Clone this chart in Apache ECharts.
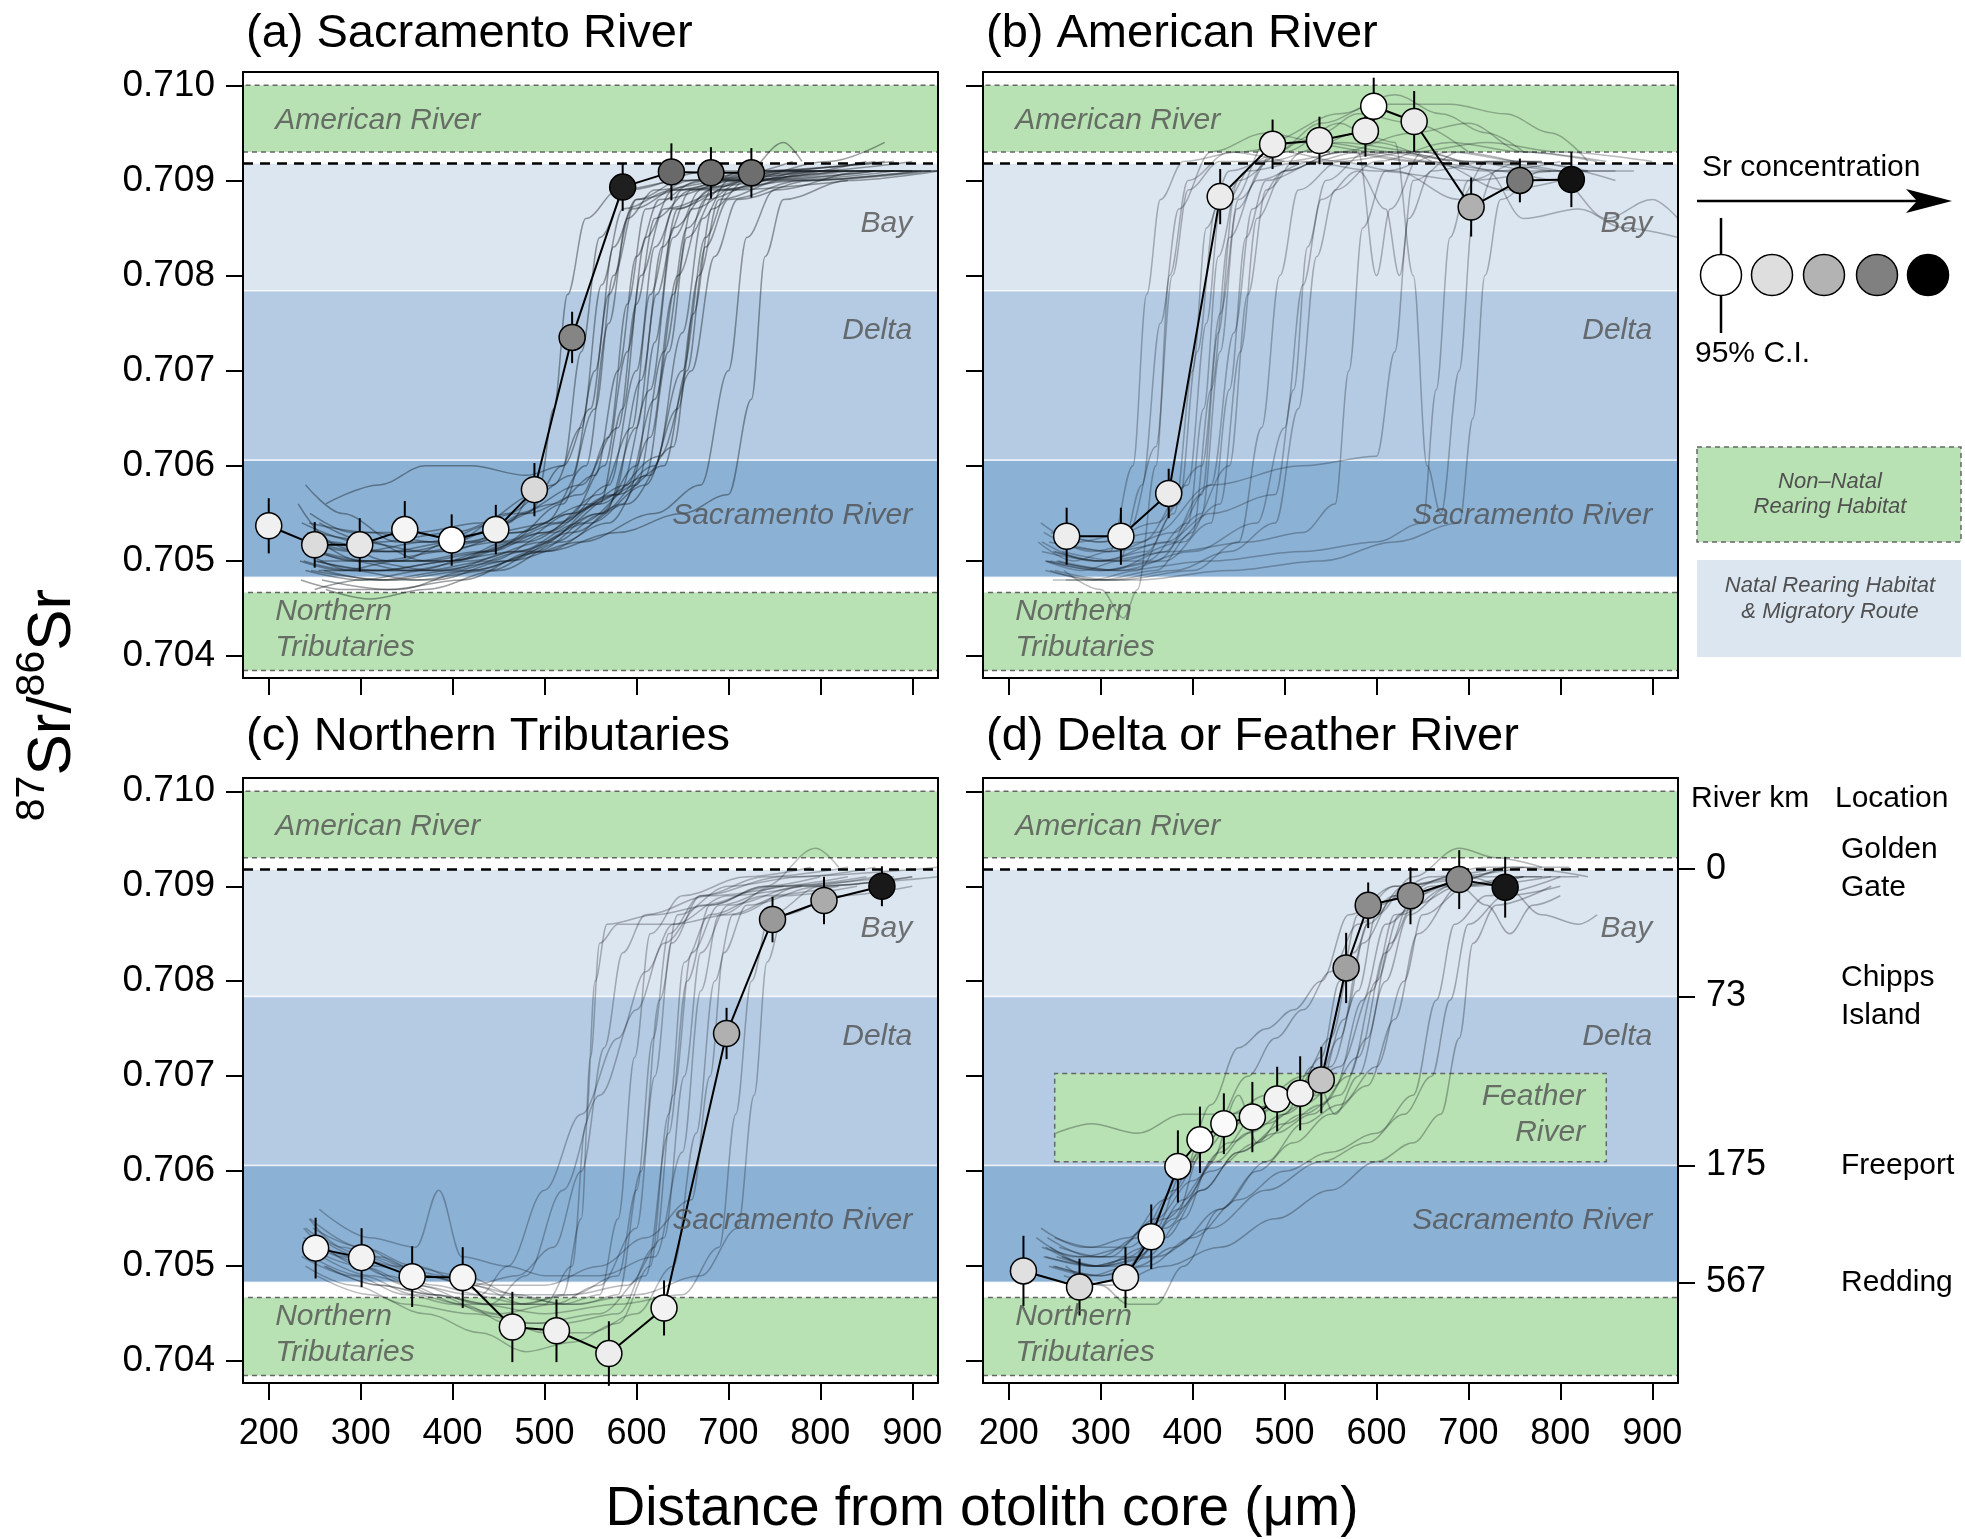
<!DOCTYPE html>
<html>
<head>
<meta charset="utf-8">
<title>Otolith 87Sr/86Sr trajectories</title>
<script src="https://cdn.jsdelivr.net/npm/echarts@6/dist/echarts.min.js"></script>
<style>
  html, body { margin: 0; padding: 0; background: #fff; }
  #chart { width: 1965px; height: 1539px; }
</style>
</head>
<body>
<div id="chart"></div>
<script>
// ---- axis ticks ----
var xTicks = [200, 300, 400, 500, 600, 700, 800, 900];
var yTicks = [0.704, 0.705, 0.706, 0.707, 0.708, 0.709, 0.710];

// ---- habitat bands (87Sr/86Sr) ----
var americanBand = [0.7093, 0.7100];
var bayBand = [0.70784, 0.70918];
var deltaBand = [0.70606, 0.70784];
var sacBand = [0.70483, 0.70606];
var northernBand = [0.70385, 0.70467];
var featherX = [250, 850];
var featherY = [0.70610, 0.70703];
var seawater = 0.70918;

// ---- river km / location (panel d, right side) ----
var riverKmValues = [0.70918, 0.70784, 0.70606, 0.70483];
var riverKmLabels = ['0', '73', '175', '567'];
var locationLabels = ['Golden\nGate', 'Chipps\nIsland', 'Freeport', 'Redding'];

// ---- mean trajectories: distance (um), ratio, 95% CI half width, relative Sr concentration (0 low .. 1 high) ----
var sacX  = [200, 250, 299, 348, 399, 447, 489, 530, 585, 638, 681, 725];
var sacY  = [0.70537, 0.70517, 0.70517, 0.70533, 0.70522, 0.70533, 0.70575, 0.70735, 0.70893, 0.70909, 0.70908, 0.70908];
var sacCI = [0.00029, 0.00024, 0.00028, 0.00030, 0.00027, 0.00026, 0.00028, 0.00027, 0.00025, 0.00030, 0.00027, 0.00026];
var sacSr = [0.06, 0.14, 0.10, 0.04, 0.00, 0.06, 0.15, 0.48, 0.88, 0.59, 0.57, 0.57];

var amX  = [263, 322, 374, 430, 487, 538, 588, 597, 641, 703, 756, 812];
var amY  = [0.70526, 0.70526, 0.70571, 0.70883, 0.70938, 0.70942, 0.70952, 0.70978, 0.70962, 0.70872, 0.70900, 0.70901];
var amCI = [0.00030, 0.00030, 0.00026, 0.00029, 0.00026, 0.00025, 0.00027, 0.00030, 0.00032, 0.00031, 0.00023, 0.00029];
var amSr = [0.07, 0.05, 0.08, 0.08, 0.07, 0.07, 0.07, 0.00, 0.08, 0.31, 0.53, 0.93];

var ntX  = [251, 301, 356, 411, 465, 513, 570, 630, 698, 748, 804, 867];
var ntY  = [0.70519, 0.70509, 0.70489, 0.70488, 0.70436, 0.70432, 0.70408, 0.70456, 0.70745, 0.70865, 0.70885, 0.70900];
var ntCI = [0.00032, 0.00031, 0.00032, 0.00032, 0.00037, 0.00033, 0.00034, 0.00029, 0.00027, 0.00024, 0.00025, 0.00021];
var ntSr = [0.04, 0.05, 0.04, 0.04, 0.05, 0.06, 0.07, 0.05, 0.31, 0.40, 0.33, 0.90];

var dfX  = [216, 277, 327, 355, 384, 408, 434, 465, 492, 517, 540, 567, 591, 637, 690, 740];
var dfY  = [0.70495, 0.70478, 0.70488, 0.70531, 0.70605, 0.70633, 0.70650, 0.70657, 0.70676, 0.70682, 0.70696, 0.70814, 0.70880, 0.70890, 0.70907, 0.70899];
var dfCI = [0.00037, 0.00030, 0.00032, 0.00034, 0.00038, 0.00035, 0.00032, 0.00037, 0.00034, 0.00039, 0.00035, 0.00037, 0.00024, 0.00030, 0.00031, 0.00032];
var dfSr = [0.12, 0.14, 0.07, 0.03, 0.03, 0.00, 0.02, 0.04, 0.05, 0.06, 0.23, 0.37, 0.45, 0.45, 0.46, 0.91];

// ---- individual fish trajectories (estimated from the figure) ----
var sacTraces = [
  [[232,0.7056],[270,0.7052],[330,0.7050],[400,0.7050],[460,0.7052],[520,0.7056],[555,0.7066],[575,0.7080],[600,0.7088],[650,0.7090],[750,0.7091],[860,0.7092]],
  [[238,0.7050],[290,0.7049],[360,0.7049],[440,0.7051],[500,0.7054],[545,0.7060],[570,0.7075],[590,0.7086],[620,0.7089],[700,0.7090],[820,0.7091]],
  [[245,0.7053],[300,0.7051],[380,0.7051],[450,0.7052],[520,0.7054],[570,0.7058],[600,0.7070],[620,0.7083],[650,0.7089],[720,0.7091],[880,0.7092]],
  [[250,0.7047],[300,0.7048],[370,0.7049],[440,0.7050],[510,0.7053],[580,0.7057],[615,0.7068],[640,0.7084],[670,0.7089],[760,0.7091],[900,0.7091]],
  [[240,0.7058],[280,0.7055],[340,0.7052],[420,0.7052],[480,0.7055],[520,0.7060],[540,0.7072],[560,0.7084],[590,0.7089],[680,0.7091],[790,0.7091]],
  [[255,0.7051],[310,0.7050],[390,0.7050],[470,0.7051],[540,0.7054],[600,0.7058],[630,0.7072],[655,0.7085],[690,0.7090],[780,0.7091],[920,0.7091]],
  [[235,0.7052],[290,0.7050],[350,0.7049],[420,0.7050],[500,0.7052],[560,0.7056],[585,0.7066],[605,0.7080],[630,0.7087],[700,0.7089],[830,0.7090]],
  [[260,0.7049],[320,0.7048],[400,0.7049],[480,0.7051],[560,0.7055],[620,0.7060],[650,0.7074],[672,0.7086],[700,0.7090],[800,0.7091],[928,0.7091]],
  [[245,0.7055],[290,0.7053],[360,0.7053],[430,0.7054],[490,0.7057],[530,0.7059],[555,0.7070],[575,0.7083],[600,0.7088],[680,0.7090],[770,0.7092]],
  [[250,0.7050],[320,0.7049],[400,0.7050],[470,0.7052],[530,0.7055],[590,0.7058],[620,0.7067],[645,0.7080],[675,0.7088],[740,0.7090],[860,0.7091]],
  [[265,0.7052],[330,0.7051],[400,0.7052],[460,0.7054],[495,0.7058],[510,0.7066],[525,0.7078],[545,0.7086],[580,0.7089],[650,0.7090],[760,0.7091]],
  [[240,0.7049],[300,0.7048],[380,0.7048],[460,0.7050],[540,0.7052],[620,0.7055],[670,0.7058],[700,0.7070],[720,0.7084],[750,0.7089],[850,0.7091],[928,0.7091]],
  [[255,0.7054],[310,0.7052],[370,0.7050],[440,0.7051],[500,0.7053],[560,0.7057],[595,0.7064],[615,0.7078],[640,0.7087],[720,0.7090],[850,0.7092]],
  [[235,0.7048],[280,0.7047],[340,0.7047],[420,0.7049],[500,0.7051],[570,0.7054],[610,0.7059],[635,0.7072],[655,0.7084],[690,0.7089],[790,0.7091],[900,0.7092]],
  [[262,0.7056],[320,0.7058],[370,0.7060],[420,0.7060],[480,0.7059],[520,0.7060],[550,0.7066],[570,0.7078],[595,0.7087],[660,0.7090],[780,0.7091]],
  [[248,0.7051],[300,0.7050],[360,0.7050],[430,0.7051],[500,0.7053],[575,0.7057],[605,0.7069],[628,0.7083],[660,0.7089],[760,0.7091],[890,0.7091]],
  [[242,0.7053],[300,0.7050],[380,0.7049],[460,0.7050],[530,0.7053],[590,0.7056],[640,0.7062],[662,0.7076],[682,0.7087],[720,0.7090],[830,0.7091]],
  [[258,0.7048],[330,0.7047],[410,0.7048],[490,0.7051],[560,0.7055],[600,0.7060],[620,0.7073],[640,0.7085],[680,0.7089],[780,0.7090],[910,0.7091]],
  [[236,0.7054],[300,0.7052],[370,0.7051],[430,0.7052],[480,0.7055],[540,0.7057],[570,0.7063],[590,0.7077],[610,0.7087],[670,0.7090],[800,0.7091]],
  [[252,0.7050],[310,0.7049],[390,0.7049],[470,0.7051],[550,0.7054],[610,0.7058],[645,0.7066],[668,0.7080],[690,0.7088],[760,0.7090],[880,0.7091]],
  [[246,0.7049],[330,0.7048],[420,0.7049],[500,0.7051],[580,0.7053],[650,0.7055],[700,0.7057],[725,0.7067],[740,0.7082],[760,0.7088],[830,0.7090],[928,0.7091]],
  [[240,0.7052],[290,0.7051],[350,0.7051],[410,0.7052],[470,0.7053],[530,0.7055],[565,0.7060],[590,0.7072],[610,0.7084],[640,0.7089],[740,0.7091],[870,0.7092]],
  [[262,0.7047],[310,0.7046],[370,0.7047],[450,0.7049],[520,0.7052],[585,0.7056],[615,0.7063],[640,0.7078],[660,0.7087],[720,0.7090],[860,0.7091]],
  [[244,0.7054],[310,0.7053],[380,0.7052],[450,0.7054],[510,0.7056],[555,0.7059],[580,0.7070],[600,0.7082],[625,0.7088],[710,0.7090],[810,0.7092],[870,0.7094]],
  [[254,0.7049],[320,0.7049],[400,0.7050],[480,0.7052],[560,0.7056],[625,0.7061],[660,0.7070],[685,0.7082],[710,0.7088],[790,0.7090],[920,0.7091]],
  [[238,0.7051],[290,0.7049],[360,0.7048],[440,0.7049],[510,0.7052],[565,0.7055],[600,0.7064],[622,0.7078],[645,0.7087],[700,0.7090],[820,0.7091]],
  [[250,0.7053],[320,0.7052],[400,0.7053],[470,0.7055],[540,0.7058],[580,0.7064],[600,0.7077],[620,0.7086],[660,0.7089],[720,0.7091],[760,0.7094],[780,0.7092]],
  [[256,0.7050],[320,0.7050],[390,0.7051],[470,0.7053],[550,0.7056],[615,0.7059],[650,0.7070],[675,0.7084],[700,0.7089],[800,0.7091],[900,0.7091]],
  [[234,0.7050],[280,0.7049],[340,0.7050],[400,0.7052],[460,0.7055],[510,0.7058],[540,0.7064],[562,0.7079],[585,0.7087],[640,0.7089],[740,0.7090]],
  [[248,0.7052],[300,0.7051],[370,0.7052],[440,0.7053],[510,0.7054],[580,0.7057],[630,0.7060],[655,0.7070],[675,0.7083],[700,0.7088],[780,0.7090],[905,0.7091]]
];

var amTraces = [
  [[232,0.7052],[270,0.7050],[310,0.7051],[335,0.7060],[350,0.7078],[365,0.7088],[390,0.7092],[450,0.7093],[520,0.7094],[600,0.7093],[700,0.7092],[780,0.7092]],
  [[240,0.7050],[280,0.7049],[320,0.7050],[345,0.7058],[365,0.7075],[385,0.7087],[420,0.7093],[480,0.7095],[540,0.7094],[620,0.7093],[680,0.7092]],
  [[235,0.7054],[275,0.7052],[330,0.7053],[360,0.7062],[378,0.7080],[395,0.7089],[430,0.7092],[500,0.7092],[570,0.7093],[650,0.7092],[740,0.7091],[830,0.7091]],
  [[245,0.7049],[290,0.7048],[340,0.7049],[380,0.7055],[400,0.7070],[415,0.7085],[440,0.7091],[500,0.7093],[560,0.7096],[600,0.7094],[660,0.7092]],
  [[250,0.7051],[300,0.7050],[350,0.7051],[385,0.7056],[405,0.7072],[425,0.7087],[460,0.7091],[520,0.7092],[600,0.7091],[700,0.7090],[800,0.7091],[880,0.7091]],
  [[238,0.7053],[290,0.7051],[345,0.7052],[395,0.7058],[415,0.7075],[430,0.7087],[470,0.7092],[540,0.7095],[580,0.7097],[640,0.7096],[700,0.7093]],
  [[260,0.7049],[300,0.7047],[325,0.7044],[340,0.7047],[360,0.7060],[375,0.7080],[395,0.7090],[440,0.7093],[500,0.7092]],
  [[242,0.7050],[300,0.7049],[370,0.7050],[420,0.7054],[440,0.7068],[458,0.7084],[480,0.7090],[540,0.7092],[620,0.7093],[700,0.7092],[790,0.7091]],
  [[255,0.7052],[310,0.7051],[380,0.7052],[430,0.7056],[452,0.7072],[470,0.7086],[500,0.7091],[560,0.7093],[640,0.7095],[700,0.7096],[760,0.7093],[850,0.7092]],
  [[248,0.7048],[320,0.7048],[400,0.7049],[450,0.7052],[475,0.7064],[495,0.7080],[515,0.7089],[560,0.7092],[620,0.7091],[690,0.7088],[720,0.7092],[800,0.7091]],
  [[236,0.7051],[300,0.7050],[380,0.7051],[460,0.7052],[520,0.7053],[555,0.7056],[570,0.7070],[585,0.7085],[610,0.7091],[680,0.7093],[760,0.7092],[860,0.7090]],
  [[245,0.7050],[320,0.7049],[420,0.7050],[520,0.7051],[600,0.7052],[650,0.7054],[665,0.7068],[680,0.7084],[700,0.7090],[760,0.7092],[830,0.7091]],
  [[252,0.7053],[300,0.7052],[360,0.7054],[410,0.7060],[430,0.7076],[450,0.7088],[490,0.7093],[540,0.7096],[600,0.7098],[680,0.7098],[740,0.7097],[790,0.7095],[830,0.7092]],
  [[240,0.7049],[300,0.7048],[360,0.7049],[400,0.7053],[420,0.7068],[440,0.7084],[470,0.7090],[530,0.7092],[580,0.7093],[600,0.7080],[615,0.7087],[650,0.7093],[700,0.7092],[760,0.7091]],
  [[258,0.7051],[320,0.7050],[390,0.7052],[440,0.7060],[460,0.7078],[480,0.7089],[520,0.7093],[580,0.7095],[620,0.7094],[640,0.7080],[655,0.7060],[670,0.7055],[690,0.7070],[705,0.7086],[730,0.7091],[800,0.7092]],
  [[244,0.7052],[310,0.7051],[380,0.7053],[420,0.7058],[445,0.7074],[465,0.7087],[500,0.7091],[560,0.7093],[640,0.7092],[720,0.7091],[760,0.7086],[820,0.7087],[870,0.7085],[928,0.7084]],
  [[250,0.7049],[310,0.7048],[380,0.7049],[440,0.7051],[490,0.7054],[515,0.7066],[535,0.7082],[555,0.7089],[600,0.7092],[680,0.7094],[760,0.7093],[840,0.7092]],
  [[262,0.7048],[340,0.7048],[440,0.7049],[540,0.7050],[620,0.7052],[690,0.7054],[705,0.7065],[718,0.7080],[735,0.7088],[780,0.7091],[860,0.7091]],
  [[236,0.7052],[290,0.7050],[350,0.7050],[395,0.7054],[412,0.7066],[428,0.7082],[450,0.7090],[500,0.7093],[560,0.7092],[640,0.7093],[720,0.7094],[800,0.7093],[900,0.7092]],
  [[248,0.7051],[300,0.7050],[370,0.7052],[420,0.7055],[490,0.7057],[510,0.7068],[525,0.7083],[545,0.7090],[590,0.7093],[660,0.7092],[740,0.7089],[800,0.7090]],
  [[240,0.7050],[300,0.7049],[360,0.7050],[410,0.7055],[430,0.7072],[448,0.7087],[480,0.7092],[560,0.7094],[650,0.7093],[730,0.7091],[800,0.7090],[850,0.7086],[900,0.7088],[928,0.7086]],
  [[254,0.7050],[320,0.7049],[400,0.7051],[470,0.7054],[500,0.7064],[520,0.7079],[540,0.7088],[580,0.7091],[610,0.7087],[625,0.7080],[640,0.7090],[690,0.7093],[750,0.7092]],
  [[246,0.7053],[300,0.7052],[360,0.7053],[420,0.7058],[520,0.7060],[600,0.7061],[620,0.7072],[635,0.7086],[660,0.7091],[720,0.7092],[780,0.7092]],
  [[252,0.7050],[310,0.7049],[370,0.7051],[410,0.7057],[428,0.7074],[445,0.7088],[480,0.7094],[560,0.7097],[620,0.7099],[670,0.7097],[720,0.7095],[760,0.7093]]
];

var ntTraces = [
  [[238,0.7054],[280,0.7051],[330,0.7049],[380,0.7047],[440,0.7046],[500,0.7046],[530,0.7050],[545,0.7065],[555,0.7080],[568,0.7086],[620,0.7087],[680,0.7088],[740,0.7090],[800,0.7091]],
  [[245,0.7055],[300,0.7052],[360,0.7050],[420,0.7048],[480,0.7046],[540,0.7046],[580,0.7047],[605,0.7060],[625,0.7078],[645,0.7087],[700,0.7090],[780,0.7091],[860,0.7092]],
  [[250,0.7053],[300,0.7050],[350,0.7048],[410,0.7046],[460,0.7044],[520,0.7044],[580,0.7045],[620,0.7052],[640,0.7068],[660,0.7083],[690,0.7088],[760,0.7090],[850,0.7091]],
  [[236,0.7051],[290,0.7049],[350,0.7047],[400,0.7046],[450,0.7045],[510,0.7046],[560,0.7048],[600,0.7054],[620,0.7070],[638,0.7084],[670,0.7089],[740,0.7091],[830,0.7092]],
  [[255,0.7056],[310,0.7053],[360,0.7052],[385,0.7058],[410,0.7051],[460,0.7050],[500,0.7049],[560,0.7049],[620,0.7051],[650,0.7062],[670,0.7079],[690,0.7087],[750,0.7090],[880,0.7091]],
  [[260,0.7050],[320,0.7048],[380,0.7047],[440,0.7046],[480,0.7049],[520,0.7058],[560,0.7068],[600,0.7077],[630,0.7084],[670,0.7088],[750,0.7090],[830,0.7091]],
  [[242,0.7052],[300,0.7050],[360,0.7048],[430,0.7046],[500,0.7045],[580,0.7046],[650,0.7047],[690,0.7052],[708,0.7066],[725,0.7080],[745,0.7087],[800,0.7090],[900,0.7091]],
  [[248,0.7054],[300,0.7052],[350,0.7050],[410,0.7049],[470,0.7047],[530,0.7047],[590,0.7048],[630,0.7053],[652,0.7070],[670,0.7083],[700,0.7088],[780,0.7090],[928,0.7091]],
  [[240,0.7050],[290,0.7048],[350,0.7046],[420,0.7045],[490,0.7044],[560,0.7045],[610,0.7049],[635,0.7064],[655,0.7080],[680,0.7088],[740,0.7090],[795,0.7094],[820,0.7092]],
  [[252,0.7049],[310,0.7047],[370,0.7045],[430,0.7043],[480,0.7041],[530,0.7042],[580,0.7044],[615,0.7050],[635,0.7066],[652,0.7082],[680,0.7087],[740,0.7089],[820,0.7090]],
  [[244,0.7055],[280,0.7052],[320,0.7051],[370,0.7049],[420,0.7048],[470,0.7047],[520,0.7046],[560,0.7047],[580,0.7055],[598,0.7072],[615,0.7085],[650,0.7089],[720,0.7091],[790,0.7092]],
  [[258,0.7051],[310,0.7049],[360,0.7048],[420,0.7047],[480,0.7046],[520,0.7047],[540,0.7055],[550,0.7072],[560,0.7084],[580,0.7086],[640,0.7086],[700,0.7087],[760,0.7089],[840,0.7090]],
  [[238,0.7053],[290,0.7051],[340,0.7050],[390,0.7049],[440,0.7048],[500,0.7048],[560,0.7050],[610,0.7053],[660,0.7057],[680,0.7070],[695,0.7083],[720,0.7088],[800,0.7090],[900,0.7091]],
  [[250,0.7052],[320,0.7050],[380,0.7048],[430,0.7047],[460,0.7050],[500,0.7058],[540,0.7066],[580,0.7074],[610,0.7081],[640,0.7086],[700,0.7089],[780,0.7090]],
  [[262,0.7050],[320,0.7048],[380,0.7047],[440,0.7045],[500,0.7043],[550,0.7043],[600,0.7045],[640,0.7050],[665,0.7064],[685,0.7080],[705,0.7087],[780,0.7090],[860,0.7091]],
  [[246,0.7051],[300,0.7049],[360,0.7047],[410,0.7046],[470,0.7046],[530,0.7047],[580,0.7049],[600,0.7058],[618,0.7074],[635,0.7085],[670,0.7089],[760,0.7091],[928,0.7092]],
  [[240,0.7054],[300,0.7051],[370,0.7049],[450,0.7047],[530,0.7046],[600,0.7047],[670,0.7049],[710,0.7054],[728,0.7068],[742,0.7082],[760,0.7087],[820,0.7089],[900,0.7090]],
  [[256,0.7053],[310,0.7051],[370,0.7049],[420,0.7048],[470,0.7049],[510,0.7052],[540,0.7060],[565,0.7073],[585,0.7083],[610,0.7087],[680,0.7089],[760,0.7090]]
];

var dfTraces = [
  [[230,0.7053],[270,0.7051],[310,0.7051],[350,0.7054],[390,0.7060],[430,0.7064],[470,0.7066],[510,0.7068],[540,0.7072],[560,0.7080],[580,0.7087],[620,0.7090],[700,0.7091],[780,0.7091]],
  [[240,0.7051],[290,0.7050],[330,0.7050],[370,0.7053],[410,0.7058],[450,0.7062],[490,0.7064],[530,0.7066],[570,0.7070],[600,0.7080],[625,0.7087],[680,0.7090],[760,0.7091],[820,0.7091]],
  [[235,0.7054],[280,0.7052],[320,0.7052],[360,0.7055],[400,0.7059],[440,0.7063],[480,0.7065],[520,0.7067],[555,0.7069],[585,0.7078],[610,0.7086],[660,0.7090],[740,0.7092]],
  [[250,0.7050],[300,0.7049],[340,0.7050],[380,0.7052],[430,0.7056],[480,0.7061],[520,0.7065],[560,0.7067],[600,0.7071],[630,0.7080],[650,0.7087],[700,0.7090],[790,0.7091]],
  [[262,0.7050],[300,0.7048],[330,0.7046],[360,0.7046],[390,0.7050],[430,0.7056],[470,0.7060],[510,0.7063],[550,0.7066],[590,0.7069],[620,0.7076],[645,0.7085],[690,0.7090],[760,0.7091]],
  [[251,0.7064],[290,0.7065],[340,0.7064],[390,0.7066],[440,0.7066],[490,0.7067],[530,0.7068],[560,0.7074],[585,0.7084],[620,0.7089],[700,0.7091]],
  [[245,0.7052],[290,0.7050],[340,0.7051],[380,0.7055],[410,0.7062],[440,0.7066],[480,0.7068],[520,0.7070],[550,0.7074],[575,0.7083],[600,0.7088],[660,0.7091],[740,0.7092]],
  [[238,0.7051],[300,0.7050],[360,0.7051],[420,0.7054],[480,0.7058],[540,0.7061],[590,0.7063],[630,0.7066],[660,0.7070],[680,0.7078],[700,0.7086],[740,0.7089],[800,0.7090]],
  [[255,0.7052],[300,0.7051],[340,0.7053],[380,0.7058],[420,0.7064],[460,0.7070],[490,0.7074],[520,0.7077],[550,0.7081],[580,0.7086],[620,0.7089],[680,0.7091],[760,0.7092]],
  [[242,0.7053],[290,0.7051],[330,0.7051],[370,0.7054],[410,0.7058],[450,0.7062],[500,0.7065],[540,0.7067],[580,0.7072],[610,0.7083],[640,0.7089],[700,0.7091],[740,0.7090],[780,0.7087],[820,0.7086],[840,0.7087]],
  [[248,0.7050],[300,0.7049],[350,0.7050],[400,0.7053],[450,0.7057],[500,0.7060],[550,0.7062],[600,0.7064],[640,0.7068],[665,0.7078],[685,0.7086],[720,0.7089],[800,0.7091]],
  [[258,0.7051],[300,0.7050],[350,0.7052],[390,0.7057],[430,0.7062],[470,0.7066],[510,0.7069],[550,0.7071],[580,0.7079],[600,0.7087],[640,0.7091],[690,0.7094],[730,0.7093],[780,0.7092]],
  [[236,0.7052],[280,0.7051],[330,0.7052],[370,0.7055],[420,0.7060],[470,0.7063],[520,0.7066],[560,0.7068],[590,0.7074],[615,0.7084],[640,0.7088],[690,0.7090],[720,0.7088],[745,0.7085],[770,0.7088],[800,0.7089]],
  [[252,0.7051],[300,0.7050],[350,0.7051],[390,0.7055],[420,0.7061],[450,0.7068],[470,0.7063],[500,0.7066],[530,0.7071],[555,0.7066],[580,0.7070],[610,0.7080],[635,0.7087],[680,0.7090],[760,0.7091]],
  [[244,0.7050],[290,0.7049],[330,0.7050],[360,0.7054],[390,0.7060],[420,0.7067],[450,0.7073],[480,0.7075],[510,0.7077],[540,0.7080],[570,0.7087],[620,0.7090],[700,0.7091]],
  [[260,0.7049],[310,0.7048],[370,0.7050],[430,0.7052],[490,0.7055],[550,0.7058],[600,0.7061],[640,0.7063],[670,0.7066],[690,0.7074],[705,0.7084],[730,0.7088],[790,0.7090]],
  [[240,0.7052],[290,0.7050],[340,0.7051],[385,0.7056],[425,0.7061],[460,0.7064],[500,0.7066],[535,0.7068],[565,0.7076],[590,0.7086],[630,0.7090],[720,0.7092],[810,0.7092]],
  [[250,0.7053],[290,0.7052],[330,0.7053],[370,0.7057],[410,0.7062],[445,0.7065],[485,0.7067],[525,0.7069],[560,0.7071],[595,0.7079],[620,0.7087],[670,0.7090],[750,0.7092],[830,0.7091]]
];

// legend shades for the Sr concentration scale
var legendSr = [0, 0.13, 0.3, 0.5, 1.0];

// ---------------------------------------------------------------
var FONT = '"Liberation Sans", Arial, Helvetica, sans-serif';
var X_MIN = 172, X_MAX = 928, Y_MIN = 0.70377, Y_MAX = 0.71014;
var GREEN = '#b8e2b3', BAY = '#dce6f0', DELTA = '#b4cbe3', SAC = '#8bb1d5';
var LABEL_GREY = '#505050';

function shade(level) {
  var v = Math.round(255 * (1 - level));
  return 'rgb(' + v + ',' + v + ',' + v + ')';
}

var chart = echarts.init(document.getElementById('chart'));

var grids = [
  {left: 243, top: 72, width: 695, height: 606},
  {left: 983, top: 72, width: 695, height: 606},
  {left: 243, top: 778, width: 695, height: 605},
  {left: 983, top: 778, width: 695, height: 605}
];

var panels = [
  {title: '(a) Sacramento River', x: sacX, y: sacY, ci: sacCI, sr: sacSr, traces: sacTraces, alpha: 0.42},
  {title: '(b) American River', x: amX, y: amY, ci: amCI, sr: amSr, traces: amTraces, alpha: 0.3},
  {title: '(c) Northern Tributaries', x: ntX, y: ntY, ci: ntCI, sr: ntSr, traces: ntTraces, alpha: 0.3},
  {title: '(d) Delta or Feather River', x: dfX, y: dfY, ci: dfCI, sr: dfSr, traces: dfTraces, alpha: 0.32}
];

// label anchors in data units
var bandText = [
  {text: 'American River', x: 207, y: 0.70963, side: 'right'},
  {text: 'Bay', x: 900, y: 0.70855, side: 'left'},
  {text: 'Delta', x: 900, y: 0.70742, side: 'left'},
  {text: 'Sacramento River', x: 900, y: 0.70548, side: 'left'},
  {text: 'Northern', x: 207, y: 0.70447, side: 'right'},
  {text: 'Tributaries', x: 207, y: 0.70409, side: 'right'}
];
var featherText = [
  {text: 'Feather', x: 827, y: 0.70679, side: 'left'},
  {text: 'River', x: 827, y: 0.70641, side: 'left'}
];

var xAxes = [], yAxes = [], series = [];
var axisLineStyle = {color: '#000', width: 2};

function nearestIndex(v) {
  var best = 0;
  riverKmValues.forEach(function (r, k) { if (Math.abs(r - v) < Math.abs(riverKmValues[best] - v)) best = k; });
  return best;
}

grids.forEach(function (g, i) {
  var showX = i >= 2, showY = i % 2 === 0;
  xAxes.push({
    gridIndex: i, type: 'value', position: 'bottom', min: X_MIN, max: X_MAX, z: 10,
    axisLine: {show: true, onZero: false, lineStyle: axisLineStyle},
    axisTick: {show: true, customValues: xTicks, length: 17, lineStyle: axisLineStyle},
    axisLabel: {show: showX, customValues: xTicks, fontSize: 36, color: '#000', margin: 33, fontFamily: FONT},
    splitLine: {show: false}
  });
  xAxes.push({
    gridIndex: i, type: 'value', position: 'top', min: X_MIN, max: X_MAX, z: 10,
    axisLine: {show: true, onZero: false, lineStyle: axisLineStyle},
    axisTick: {show: false}, axisLabel: {show: false}, splitLine: {show: false}
  });
  yAxes.push({
    gridIndex: i, type: 'value', position: 'left', min: Y_MIN, max: Y_MAX, z: 10,
    axisLine: {show: true, onZero: false, lineStyle: axisLineStyle},
    axisTick: {show: true, customValues: yTicks, length: 17, lineStyle: axisLineStyle},
    axisLabel: {show: showY, customValues: yTicks, fontSize: 37, color: '#000', margin: 28, fontFamily: FONT,
      formatter: function (v) { return v.toFixed(3); }},
    splitLine: {show: false}
  });
  var right = {
    gridIndex: i, type: 'value', position: 'right', min: Y_MIN, max: Y_MAX, z: 10,
    axisLine: {show: true, onZero: false, lineStyle: axisLineStyle},
    axisTick: {show: false}, axisLabel: {show: false}, splitLine: {show: false}
  };
  if (i === 3) {
    right.axisTick = {show: true, customValues: riverKmValues, length: 17, lineStyle: axisLineStyle};
    right.axisLabel = {show: true, customValues: riverKmValues, fontSize: 36, color: '#000', margin: 28,
      fontFamily: FONT,
      formatter: function (v) { return riverKmLabels[nearestIndex(v)]; }};
  }
  yAxes.push(right);
});

// location names, sitting on the same river km positions
yAxes.push({
  gridIndex: 3, type: 'value', position: 'right', offset: 163, min: Y_MIN, max: Y_MAX,
  axisLine: {show: false}, axisTick: {show: false}, splitLine: {show: false},
  axisLabel: {show: true, customValues: riverKmValues, fontSize: 30, lineHeight: 38, color: '#000',
    margin: 0, align: 'left', fontFamily: FONT,
    formatter: function (v) { return locationLabels[nearestIndex(v)]; }}
});

var greenDashed = {color: GREEN, borderColor: '#666', borderWidth: 1.5, borderType: [5, 4]};
var blueEdge = {borderColor: 'rgba(255,255,255,0.7)', borderWidth: 1.5};

function textSeries(items, xi, yi) {
  return {
    type: 'scatter', xAxisIndex: xi, yAxisIndex: yi, z: 8, silent: true,
    symbolSize: 0,
    data: items.map(function (t) {
      return {
        value: [t.x, t.y],
        label: {
          show: true, formatter: t.text, position: t.side, distance: 0,
          fontSize: 30, fontStyle: 'italic', color: LABEL_GREY, fontFamily: FONT
        }
      };
    })
  };
}

panels.forEach(function (p, i) {
  var xi = 2 * i, yi = 2 * i;

  var areas = [
    [{yAxis: americanBand[0], itemStyle: greenDashed}, {yAxis: americanBand[1]}],
    [{yAxis: bayBand[0], itemStyle: Object.assign({color: BAY}, blueEdge)}, {yAxis: bayBand[1]}],
    [{yAxis: deltaBand[0], itemStyle: Object.assign({color: DELTA}, blueEdge)}, {yAxis: deltaBand[1]}],
    [{yAxis: sacBand[0], itemStyle: Object.assign({color: SAC}, blueEdge)}, {yAxis: sacBand[1]}],
    [{yAxis: northernBand[0], itemStyle: greenDashed}, {yAxis: northernBand[1]}]
  ];
  if (i === 3) {
    areas.push([{coord: [featherX[0], featherY[0]], itemStyle: greenDashed}, {coord: [featherX[1], featherY[1]]}]);
  }

  // habitat bands
  series.push({
    type: 'line', xAxisIndex: xi, yAxisIndex: yi, z: 1, silent: true, data: [],
    markArea: {silent: true, data: areas, label: {show: false}}
  });

  // individual trajectories
  p.traces.forEach(function (tr) {
    series.push({
      type: 'line', xAxisIndex: xi, yAxisIndex: yi, z: 2, silent: true,
      data: tr, symbol: 'none', smooth: 0.35, smoothMonotone: 'x',
      lineStyle: {color: 'rgba(20,26,32,' + p.alpha + ')', width: 1.5}
    });
  });

  // 95% CI bars, carrying the seawater reference line
  series.push({
    type: 'custom', xAxisIndex: xi, yAxisIndex: yi, z: 4, silent: true,
    data: p.x.map(function (x, k) { return [x, p.y[k] - p.ci[k], p.y[k] + p.ci[k]]; }),
    encode: {x: 0, y: [1, 2]},
    renderItem: function (params, api) {
      var a = api.coord([api.value(0), api.value(1)]);
      var b = api.coord([api.value(0), api.value(2)]);
      return {type: 'line', shape: {x1: a[0], y1: a[1], x2: b[0], y2: b[1]},
        style: {stroke: '#000', lineWidth: 2}};
    },
    markLine: {
      silent: true, symbol: ['none', 'none'], label: {show: false},
      lineStyle: {color: '#000', width: 2.5, type: [10, 7]},
      data: [[{coord: [X_MIN, seawater]}, {coord: [X_MAX, seawater]}]]
    }
  });

  // mean trajectory
  series.push({
    type: 'line', xAxisIndex: xi, yAxisIndex: yi, z: 5, silent: true,
    symbol: 'circle', symbolSize: 26,
    lineStyle: {color: '#000', width: 2},
    data: p.x.map(function (x, k) {
      return {value: [x, p.y[k]], itemStyle: {color: shade(p.sr[k]), borderColor: '#000', borderWidth: 1.5}};
    })
  });

  series.push(textSeries(bandText, xi, yi));
  if (i === 3) series.push(textSeries(featherText, xi, yi));
});

var titles = panels.map(function (p, i) {
  return {
    text: p.title, left: grids[i].left + 3, top: i < 2 ? 11 : 714, padding: 0,
    textStyle: {fontSize: 47, fontWeight: 'normal', color: '#000', fontFamily: FONT}
  };
});

var legendX = [1721, 1772, 1824, 1877, 1928];
var graphics = [
  {type: 'text', x: 1702, y: 168, style: {text: 'Sr concentration', fontSize: 30, fontFamily: FONT, fill: '#000', verticalAlign: 'middle'}},
  {type: 'line', shape: {x1: 1697, y1: 201, x2: 1925, y2: 201}, style: {stroke: '#000', lineWidth: 2.5}},
  {type: 'polygon', shape: {points: [[1952, 201], [1906, 189], [1917, 201], [1906, 213]]}, style: {fill: '#000'}},
  {type: 'line', shape: {x1: 1721, y1: 218, x2: 1721, y2: 333}, style: {stroke: '#000', lineWidth: 2.5}},
  {type: 'text', x: 1695, y: 354, style: {text: '95% C.I.', fontSize: 30, fontFamily: FONT, fill: '#000', verticalAlign: 'middle'}},
  {type: 'rect', shape: {x: 1697, y: 447, width: 264, height: 95}, style: {fill: GREEN, stroke: '#666', lineWidth: 1.5, lineDash: [5, 4]}},
  {type: 'text', x: 1830, y: 482, style: {text: 'Non\u2013Natal', fontSize: 22, fontStyle: 'italic', fontFamily: FONT, fill: LABEL_GREY, align: 'center', verticalAlign: 'middle'}},
  {type: 'text', x: 1830, y: 507, style: {text: 'Rearing Habitat', fontSize: 22, fontStyle: 'italic', fontFamily: FONT, fill: LABEL_GREY, align: 'center', verticalAlign: 'middle'}},
  {type: 'rect', shape: {x: 1697, y: 560, width: 264, height: 97}, style: {fill: BAY}},
  {type: 'text', x: 1830, y: 586, style: {text: 'Natal Rearing Habitat', fontSize: 22, fontStyle: 'italic', fontFamily: FONT, fill: LABEL_GREY, align: 'center', verticalAlign: 'middle'}},
  {type: 'text', x: 1830, y: 612, style: {text: '& Migratory Route', fontSize: 22, fontStyle: 'italic', fontFamily: FONT, fill: LABEL_GREY, align: 'center', verticalAlign: 'middle'}},
  {type: 'text', x: 1691, y: 799, style: {text: 'River km', fontSize: 30, fontFamily: FONT, fill: '#000', verticalAlign: 'middle'}},
  {type: 'text', x: 1835, y: 799, style: {text: 'Location', fontSize: 30, fontFamily: FONT, fill: '#000', verticalAlign: 'middle'}},
  {type: 'text', x: 982, y: 1510, style: {text: 'Distance from otolith core (\u03bcm)', fontSize: 55, fontFamily: FONT, fill: '#000', align: 'center', verticalAlign: 'middle'}},
  {type: 'text', x: 48, y: 705, rotation: Math.PI / 2,
    style: {text: '{sup|87}{m|Sr/}{sup|86}{m|Sr}', align: 'center', verticalAlign: 'middle', fill: '#000', fontFamily: FONT,
      rich: {
        m: {fontSize: 62, fontFamily: FONT, fill: '#000', lineHeight: 72, verticalAlign: 'bottom'},
        sup: {fontSize: 41, fontFamily: FONT, fill: '#000', lineHeight: 72, verticalAlign: 'top'}
      }}}
];
legendX.forEach(function (cx, k) {
  graphics.push({type: 'circle', z: 2, shape: {cx: cx, cy: 275, r: 20.5},
    style: {fill: shade(legendSr[k]), stroke: '#000', lineWidth: 1.5}});
});

var options = {
  backgroundColor: '#fff',
  animation: false,
  title: titles,
  grid: grids.map(function (g) { return Object.assign({containLabel: false}, g); }),
  xAxis: xAxes,
  yAxis: yAxes,
  series: series,
  graphic: graphics
};

chart.setOption(options);
</script>
</body>
</html>
